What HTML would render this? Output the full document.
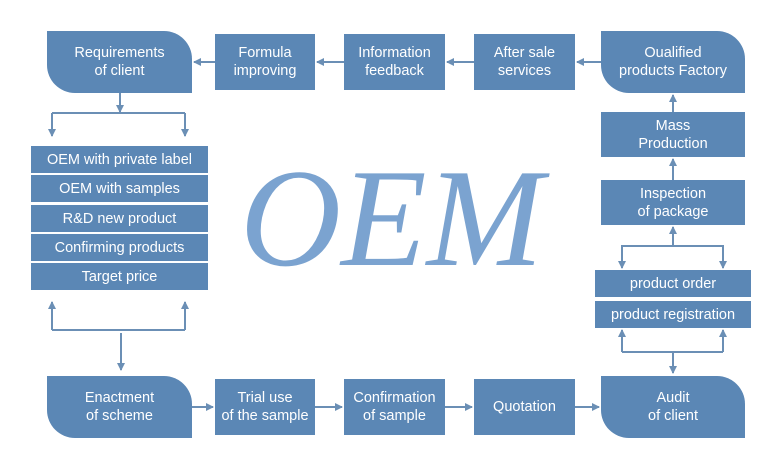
<!DOCTYPE html>
<html><head><meta charset="utf-8"><style>
body{margin:0;width:783px;height:465px;background:#fff;position:relative;overflow:hidden;font-family:"Liberation Sans",sans-serif;}
.b{position:absolute;background:#5b87b5;color:#fff;display:flex;align-items:center;justify-content:center;text-align:center;font-size:14.5px;line-height:18px;}
.r{border-radius:0 28px 0 28px;}
.oem{position:absolute;left:240px;top:149px;font-family:"Liberation Serif",serif;font-style:italic;font-size:140px;line-height:140px;color:#7ba3d0;letter-spacing:0px;}
svg{position:absolute;left:0;top:0;}
</style></head><body>
<div class="oem">OEM</div>
<div class="b r" style="left:47px;top:31px;width:145px;height:62px">Requirements<br>of client</div>
<div class="b" style="left:215px;top:34px;width:100px;height:56px">Formula<br>improving</div>
<div class="b" style="left:344px;top:34px;width:101px;height:56px">Information<br>feedback</div>
<div class="b" style="left:474px;top:34px;width:101px;height:56px">After sale<br>services</div>
<div class="b r" style="left:601px;top:31px;width:144px;height:62px">Oualified<br>products Factory</div>
<div class="b" style="left:601px;top:112px;width:144px;height:45px">Mass<br>Production</div>
<div class="b" style="left:601px;top:180px;width:144px;height:45px">Inspection<br>of package</div>
<div class="b" style="left:595px;top:270px;width:156px;height:27px">product order</div>
<div class="b" style="left:595px;top:301px;width:156px;height:27px">product registration</div>
<div class="b r" style="left:601px;top:376px;width:144px;height:62px">Audit<br>of client</div>
<div class="b" style="left:474px;top:379px;width:101px;height:56px">Quotation</div>
<div class="b" style="left:344px;top:379px;width:101px;height:56px">Confirmation<br>of sample</div>
<div class="b" style="left:215px;top:379px;width:100px;height:56px">Trial use<br>of the sample</div>
<div class="b r" style="left:47px;top:376px;width:145px;height:62px">Enactment<br>of scheme</div>
<div class="b" style="left:31px;top:146px;width:177px;height:27px">OEM with private label</div>
<div class="b" style="left:31px;top:175px;width:177px;height:27px">OEM with samples</div>
<div class="b" style="left:31px;top:205px;width:177px;height:27px">R&amp;D new product</div>
<div class="b" style="left:31px;top:234px;width:177px;height:27px">Confirming products</div>
<div class="b" style="left:31px;top:263px;width:177px;height:27px">Target price</div>
<svg width="783" height="465" viewBox="0 0 783 465">
<defs><marker id="a" markerWidth="8" markerHeight="8" refX="7" refY="4" orient="auto" markerUnits="userSpaceOnUse"><path d="M0,0 L8,4 L0,8 z" fill="#6b8fb5"/></marker></defs>
<g stroke="#6b8fb5" stroke-width="2" fill="none">
<line x1="215" y1="62" x2="194" y2="62" marker-end="url(#a)"/>
<line x1="344" y1="62" x2="317" y2="62" marker-end="url(#a)"/>
<line x1="474" y1="62" x2="447" y2="62" marker-end="url(#a)"/>
<line x1="601" y1="62" x2="577" y2="62" marker-end="url(#a)"/>
<line x1="673" y1="112" x2="673" y2="95" marker-end="url(#a)"/>
<line x1="673" y1="180" x2="673" y2="159" marker-end="url(#a)"/>
<polyline points="622,268 622,246 723,246 723,268"/>
<line x1="622" y1="246" x2="622" y2="268" marker-end="url(#a)"/>
<line x1="723" y1="246" x2="723" y2="268" marker-end="url(#a)"/>
<line x1="673" y1="246" x2="673" y2="227" marker-end="url(#a)"/>
<polyline points="622,352 723,352"/>
<line x1="622" y1="352" x2="622" y2="330" marker-end="url(#a)"/>
<line x1="723" y1="352" x2="723" y2="330" marker-end="url(#a)"/>
<line x1="673" y1="352" x2="673" y2="373" marker-end="url(#a)"/>
<line x1="192" y1="407" x2="213" y2="407" marker-end="url(#a)"/>
<line x1="315" y1="407" x2="342" y2="407" marker-end="url(#a)"/>
<line x1="445" y1="407" x2="472" y2="407" marker-end="url(#a)"/>
<line x1="575" y1="407" x2="599" y2="407" marker-end="url(#a)"/>
<line x1="120" y1="93" x2="120" y2="112" marker-end="url(#a)"/>
<polyline points="52,113 185,113"/>
<line x1="52" y1="113" x2="52" y2="136" marker-end="url(#a)"/>
<line x1="185" y1="113" x2="185" y2="136" marker-end="url(#a)"/>
<polyline points="52,330 185,330"/>
<line x1="52" y1="330" x2="52" y2="302" marker-end="url(#a)"/>
<line x1="185" y1="330" x2="185" y2="302" marker-end="url(#a)"/>
<line x1="121" y1="333" x2="121" y2="370" marker-end="url(#a)"/>
</g></svg>
</body></html>
